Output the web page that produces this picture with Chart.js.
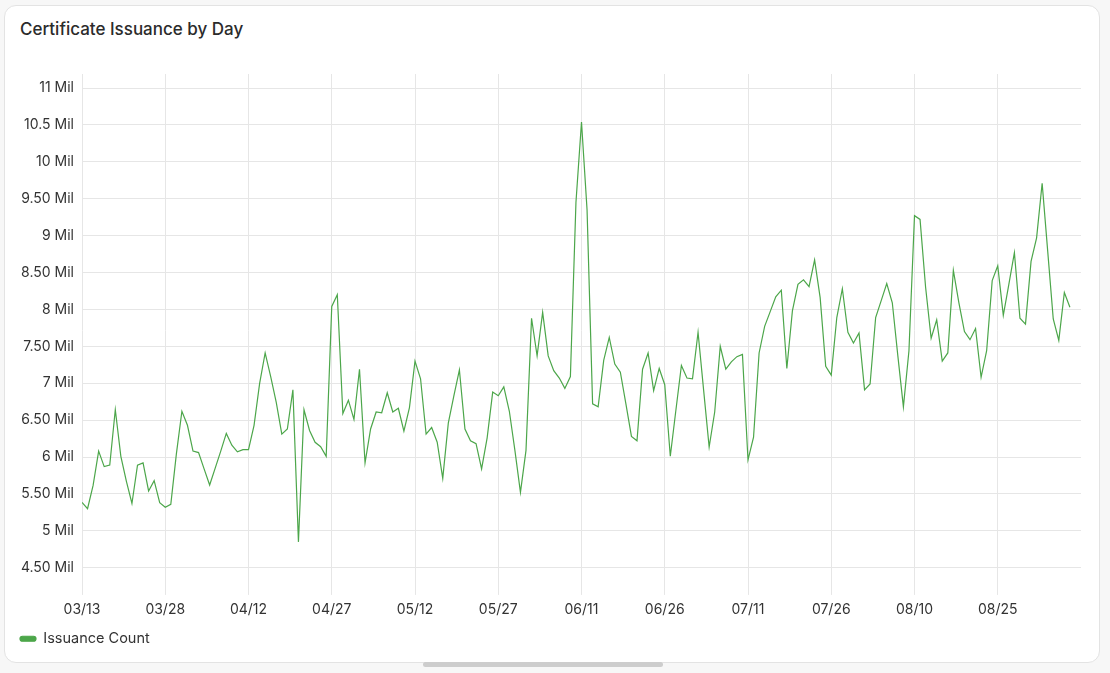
<!DOCTYPE html>
<html>
<head>
<meta charset="utf-8">
<script src="https://cdn.jsdelivr.net/npm/chart.js@4.4.1/dist/chart.umd.min.js"></script>
<style>
  html, body { margin: 0; padding: 0; background: #f7f7f7; width: 1110px; height: 673px; overflow: hidden; font-family: Inter, "Noto Sans", sans-serif; }
  #card { position: absolute; left: 4px; top: 5px; width: 1096px; height: 658px; background: #fff; border: 1px solid #e3e3e3; border-radius: 12px; box-sizing: border-box; }
  #title { position: absolute; left: 20px; top: 19px; font-size: 17px; font-weight: 500; color: #2b2b2b; }
  #wrap { position: absolute; left: 0; top: 0; width: 1110px; height: 673px; }
  #bar { position: absolute; left: 423px; top: 662px; width: 240px; height: 5px; border-radius: 3px; background: #cdcdcd; }
</style>
</head>
<body>
<div id="card"></div>
<div id="title">Certificate Issuance by Day</div>
<div id="wrap"><canvas id="c" width="1110" height="673"></canvas></div>
<div id="bar"></div>
<script>
// Daily issuance count (millions), one value per day starting 03/13
const issuanceMil = [
  5.385, 5.30, 5.615, 6.08, 5.87, 5.89, 6.64, 6.01, 5.67, 5.37,
  5.89, 5.92, 5.54, 5.68, 5.38, 5.32, 5.36, 6.04, 6.62, 6.43,
  6.08, 6.06, 5.84, 5.62, 5.85, 6.08, 6.32, 6.16, 6.07, 6.10,
  6.10, 6.43, 6.995, 7.41, 7.09, 6.74, 6.31, 6.38, 6.91, 4.85,
  6.64, 6.36, 6.20, 6.14, 6.01, 8.04, 8.20, 6.59, 6.77, 6.51,
  7.19, 5.92, 6.38, 6.61, 6.60, 6.87, 6.61, 6.66, 6.35, 6.67,
  7.30, 7.06, 6.31, 6.40, 6.20, 5.71, 6.46, 6.83, 7.18, 6.38,
  6.22, 6.18, 5.84, 6.26, 6.88, 6.83, 6.95, 6.62, 6.09, 5.52,
  6.09, 7.88, 7.37, 7.96, 7.37, 7.17, 7.07, 6.93, 7.09, 9.45,
  10.54, 9.35, 6.72, 6.68, 7.31, 7.62, 7.26, 7.15, 6.72, 6.28,
  6.22, 7.19, 7.41, 6.90, 7.20, 6.98, 6.01, 6.63, 7.24, 7.07,
  7.06, 7.69, 6.91, 6.135, 6.61, 7.50, 7.19, 7.29, 7.36, 7.39,
  5.96, 6.27, 7.41, 7.77, 7.97, 8.17, 8.26, 7.20, 7.98, 8.34,
  8.40, 8.31, 8.67, 8.16, 7.23, 7.11, 7.89, 8.28, 7.69, 7.545,
  7.68, 6.91, 6.99, 7.89, 8.12, 8.35, 8.09, 7.37, 6.68, 7.44,
  9.27, 9.22, 8.30, 7.61, 7.86, 7.30, 7.41, 8.53, 8.09, 7.70,
  7.59, 7.74, 7.08, 7.44, 8.39, 8.59, 7.92, 8.34, 8.77, 7.88,
  7.80, 8.65, 8.97, 9.71, 8.79, 7.87, 7.58, 8.23, 8.03
];
// X axis ticks (day index from 03/13) and their labels
const xTickDays = [0, 15, 30, 45, 60, 75, 90, 105, 120, 135, 150, 165];
const xTickLabels = ["03/13", "03/28", "04/12", "04/27", "05/12", "05/27", "06/11", "06/26", "07/11", "07/26", "08/10", "08/25"];
// Y axis ticks (millions) and their labels
const yTickValues = [4.5, 5, 5.5, 6, 6.5, 7, 7.5, 8, 8.5, 9, 9.5, 10, 10.5, 11];
const yTickLabels = ["4.50 Mil", "5 Mil", "5.50 Mil", "6 Mil", "6.50 Mil", "7 Mil", "7.50 Mil", "8 Mil", "8.50 Mil", "9 Mil", "9.50 Mil", "10 Mil", "10.5 Mil", "11 Mil"];
const seriesName = "Issuance Count";

const green = '#4ca64a';
const gridColor = '#e6e6e6';
const textColor = '#333333';

new Chart(document.getElementById('c'), {
  type: 'line',
  data: {
    datasets: [{
      label: seriesName,
      data: issuanceMil.map((v, i) => ({ x: i, y: v })),
      borderColor: green,
      backgroundColor: green,
      borderWidth: 1.2,
      pointRadius: 0,
      tension: 0,
      fill: false
    }]
  },
  options: {
    responsive: false,
    animation: false,
    devicePixelRatio: 1,
    layout: { padding: { left: 10, right: 29, top: 74, bottom: 17 } },
    plugins: {
      tooltip: { enabled: false },
      legend: {
        position: 'bottom',
        align: 'start',
        labels: {
          boxWidth: 16,
          boxHeight: 5,
          useBorderRadius: true,
          borderRadius: 2.5,
          padding: 10,
          color: textColor,
          font: { family: 'Inter', size: 14.5 }
        }
      }
    },
    scales: {
      x: {
        type: 'linear',
        min: 0,
        max: 180,
        afterBuildTicks: (s) => { s.ticks = xTickDays.map(v => ({ value: v })); },
        afterFit: (s) => { s.height = 34.6; },
        ticks: {
          autoSkip: false,
          maxRotation: 0,
          padding: 6,
          color: textColor,
          font: { family: 'Inter', size: 14 },
          callback: (v) => { const k = xTickDays.indexOf(v); return k >= 0 ? xTickLabels[k] : ''; }
        },
        grid: { color: gridColor, drawTicks: true, tickLength: 8, lineWidth: 1 },
        border: { display: false }
      },
      y: {
        type: 'linear',
        min: 4.24,
        max: 11.19,
        afterBuildTicks: (s) => { s.ticks = yTickValues.map(v => ({ value: v })); },
        afterFit: (s) => { s.width = 72; },
        ticks: {
          padding: 8,
          color: textColor,
          font: { family: 'Inter', size: 14 },
          callback: (v) => { const k = yTickValues.indexOf(v); return k >= 0 ? yTickLabels[k] : ''; }
        },
        grid: { color: gridColor, drawTicks: false },
        border: { display: false }
      }
    }
  }
});
</script>
</body>
</html>
